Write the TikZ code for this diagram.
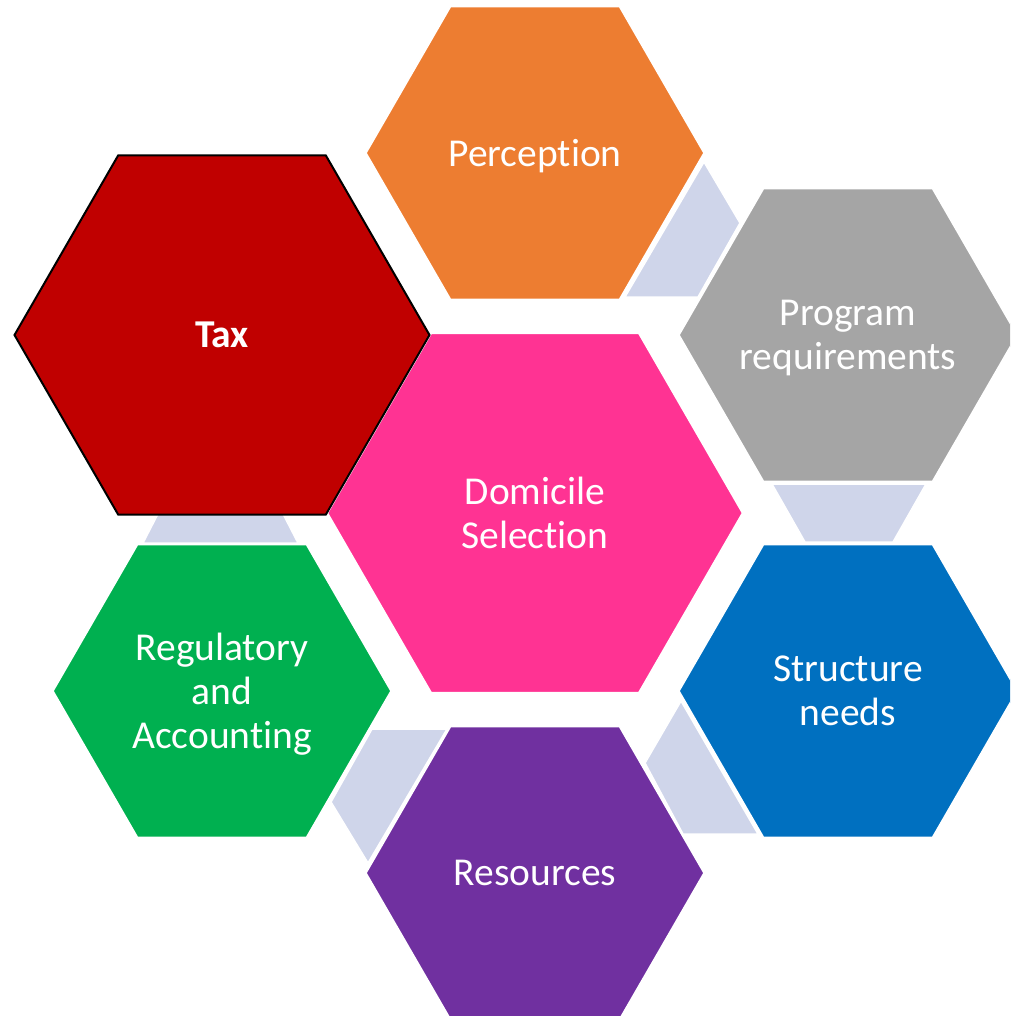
\documentclass[tikz,border=0pt]{standalone}
\usepackage{fontspec}
\setmainfont{Carlito}[Ligatures=NoCommon]
\usetikzlibrary{shapes.geometric}
\definecolor{cOrange}{HTML}{ED7D31}
\definecolor{cGrey}{HTML}{A5A5A5}
\definecolor{cBlue}{HTML}{0070C0}
\definecolor{cPurple}{HTML}{7030A0}
\definecolor{cGreen}{HTML}{00B050}
\definecolor{cPink}{HTML}{FF3393}
\definecolor{cRed}{HTML}{C00000}
\definecolor{cConn}{HTML}{CFD5EA}
\begin{document}
\begin{tikzpicture}[x=1pt,y=-1pt,
  hexs/.style={regular polygon, regular polygon sides=6, minimum size=338pt,
    inner sep=0pt, outer sep=0pt, draw=white, line width=1.5pt},
  hexb/.style={hexs, minimum size=415pt},
  txt/.style={text=white, font=\fontsize{39.5}{44}\selectfont, align=center,
    text depth=0pt, inner sep=0pt},
  conn/.style={fill=cConn, draw=white, line width=1.5pt}]
\useasboundingbox (0,0) rectangle (1010,1016);
\clip (0,0) rectangle (1010,1016);
% connectors
\draw[conn] (704,162) -- (740,223) -- (698,297) -- (625,297) -- cycle;
\draw[conn] (772,484) -- (926,484) -- (893,542) -- (805,542) -- cycle;
\draw[conn] (681,701) -- (645,763) -- (683,834) -- (758,834) -- cycle;
\draw[conn] (372,729) -- (447,729) -- (368,863) -- (331,802) -- cycle;
\draw[conn] (160,510) -- (281,510) -- (298,543) -- (143,543) -- cycle;
% hexagons
\node[hexs, fill=cOrange] (per) at (535,153) {};
\node[txt] (pert) at (per.center) {Perception};
\node[hexs, fill=cGrey] (prog) at (848,335) {};
\node[txt] (progt) at (prog.center) {Program\\requirements};
\node[hexs, fill=cBlue] (str) at (848,691) {};
\node[txt] (strt) at (str.center) {Structure\\needs};
\node[hexs, fill=cPurple] (res) at (535,873) {};
\node[txt] (rest) at (res.center) {Resources};
\node[hexs, fill=cGreen] (reg) at (222,691) {};
\node[txt] (regt) at (reg.center) {Regulatory\\and\\Accounting};
\node[hexb, fill=cPink] (dom) at (535,513) {};
\node[txt] (domt) at (dom.center) {Domicile\\Selection};
\node[hexb, fill=cRed, draw=black, line width=2pt] (tax) at (222,335) {};
\node[txt, font=\fontsize{39.5}{44}\selectfont\bfseries] (taxt) at (tax.center) {Tax};
\end{tikzpicture}
\end{document}
